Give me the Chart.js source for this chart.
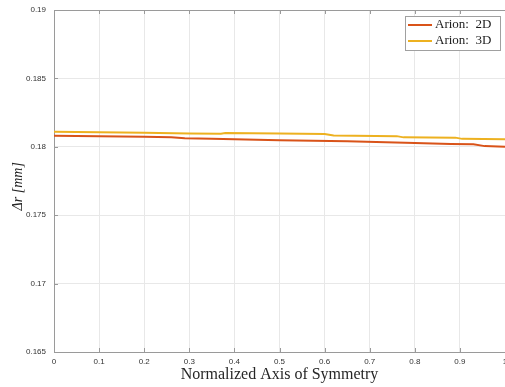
<!DOCTYPE html>
<html>
<head>
<meta charset="utf-8">
<script src="https://cdn.jsdelivr.net/npm/chart.js@4.4.1/dist/chart.umd.min.js"></script>
<style>
    html, body { margin: 0; padding: 0; background: #fff; }
    #wrap { width: 505px; height: 387px; }
</style>
</head>
<body>
<div id="wrap"><canvas id="chart"></canvas></div>
<script>
// values
const xTickValues = [0, 0.1, 0.2, 0.3, 0.4, 0.5, 0.6, 0.7, 0.8, 0.9, 1];
const xTickLabels = ['0', '0.1', '0.2', '0.3', '0.4', '0.5', '0.6', '0.7', '0.8', '0.9', '1'];
const yTickValues = [0.165, 0.17, 0.175, 0.18, 0.185, 0.19];
const yTickLabels = ['0.165', '0.17', '0.175', '0.18', '0.185', '0.19'];

const x2D = [0, 0.1, 0.2, 0.26, 0.29, 0.35, 0.5, 0.65, 0.8, 0.88, 0.93, 0.955, 1];
const y2D = [0.18081, 0.18078, 0.18074, 0.18070, 0.18063, 0.18058, 0.18048, 0.18040, 0.18027, 0.18021, 0.18018, 0.18005, 0.18001];

const x3D = [0, 0.1, 0.2, 0.3, 0.37, 0.38, 0.5, 0.6, 0.62, 0.76, 0.775, 0.89, 0.905, 1];
const y3D = [0.18110, 0.18107, 0.18102, 0.18098, 0.18096, 0.18101, 0.18097, 0.18093, 0.18082, 0.18078, 0.18069, 0.18067, 0.18058, 0.18055];

const labels = ['Arion:  2D', 'Arion:  3D'];
const colors = ['#D95319', '#EDB120'];

function toPoints(xs, ys) {
    return xs.map((x, i) => ({ x: x, y: ys[i] }));
}

// MATLAB style box: top line, inward ticks, legend box inside the axes
const boxLegend = {
    id: 'boxLegend',
    afterDraw(chart) {
        const ctx = chart.ctx;
        const area = chart.chartArea;
        const xs = chart.scales.x, ys = chart.scales.y;
        ctx.save();
        ctx.strokeStyle = '#9a9a9a';
        ctx.lineWidth = 1;
        ctx.beginPath();
        ctx.moveTo(area.left, area.top + 0.5);
        ctx.lineTo(area.right, area.top + 0.5);
        xTickValues.forEach(v => {
            const px = Math.round(xs.getPixelForValue(v)) + 0.5;
            ctx.moveTo(px, area.bottom);
            ctx.lineTo(px, area.bottom - 4);
            ctx.moveTo(px, area.top);
            ctx.lineTo(px, area.top + 4);
        });
        yTickValues.forEach(v => {
            const py = Math.round(ys.getPixelForValue(v)) + 0.5;
            ctx.moveTo(area.left, py);
            ctx.lineTo(area.left + 4, py);
        });
        ctx.stroke();

        const bx = area.right - 100, by = area.top + 6, bw = 95, bh = 34;
        ctx.fillStyle = '#fff';
        ctx.fillRect(bx, by, bw, bh);
        ctx.strokeStyle = '#a0a0a0';
        ctx.strokeRect(bx + 0.5, by + 0.5, bw, bh);

        ctx.font = '13px "Liberation Serif", "DejaVu Serif", serif';
        ctx.textBaseline = 'middle';
        chart.data.datasets.forEach((ds, i) => {
            const cy = by + 9 + i * 16;
            ctx.strokeStyle = ds.borderColor;
            ctx.lineWidth = 2;
            ctx.beginPath();
            ctx.moveTo(bx + 3, cy);
            ctx.lineTo(bx + 27, cy);
            ctx.stroke();
            ctx.fillStyle = '#1a1a1a';
            ctx.fillText(ds.label, bx + 30, cy);
        });
        ctx.restore();
    }
};

const ctx = document.getElementById('chart').getContext('2d');
new Chart(ctx, {
    type: 'line',
    data: {
        datasets: [
            {
                label: labels[0],
                data: toPoints(x2D, y2D),
                borderColor: colors[0],
                borderWidth: 2,
                pointRadius: 0,
                tension: 0
            },
            {
                label: labels[1],
                data: toPoints(x3D, y3D),
                borderColor: colors[1],
                borderWidth: 2,
                pointRadius: 0,
                tension: 0
            }
        ]
    },
    options: {
        responsive: true,
        maintainAspectRatio: false,
        animation: false,
        layout: { padding: { top: 10, right: 0, left: 0, bottom: 0 } },
        plugins: {
            legend: { display: false },
            tooltip: { enabled: false }
        },
        scales: {
            x: {
                type: 'linear',
                min: 0,
                max: 1,
                afterBuildTicks: axis => { axis.ticks = xTickValues.map(v => ({ value: v })); },
                afterFit: axis => {
                    axis.height = 35;
                    axis.paddingLeft = 0;
                    axis.paddingRight = 0;
                },
                grid: { color: '#e8e8e8', drawTicks: false },
                border: { color: '#9a9a9a' },
                ticks: {
                    padding: 5,
                    color: '#333',
                    maxRotation: 0,
                    font: { family: '"Liberation Sans", Arial, sans-serif', size: 8 },
                    callback: (value, index) => xTickLabels[index]
                },
                title: {
                    display: true,
                    text: 'Normalized Axis of Symmetry',
                    color: '#262626',
                    padding: { top: 0, bottom: 3 },
                    font: { family: '"Liberation Serif", "DejaVu Serif", serif', size: 16 }
                }
            },
            y: {
                type: 'linear',
                min: 0.165,
                max: 0.19,
                afterBuildTicks: axis => { axis.ticks = yTickValues.map(v => ({ value: v })); },
                afterFit: axis => {
                    axis.width = 54;
                    axis.paddingTop = 0;
                    axis.paddingBottom = 0;
                },
                grid: { color: '#e8e8e8', drawTicks: false },
                border: { color: '#9a9a9a' },
                ticks: {
                    padding: 8,
                    color: '#333',
                    font: { family: '"Liberation Sans", Arial, sans-serif', size: 8 },
                    callback: (value, index) => yTickLabels[index]
                },
                title: {
                    display: true,
                    text: 'Δr [mm]   ',
                    color: '#262626',
                    padding: { top: 10, bottom: 0 },
                    font: { family: '"Liberation Serif", "DejaVu Serif", serif', size: 14, style: 'italic' }
                }
            }
        }
    },
    plugins: [boxLegend]
});
</script>
</body>
</html>
